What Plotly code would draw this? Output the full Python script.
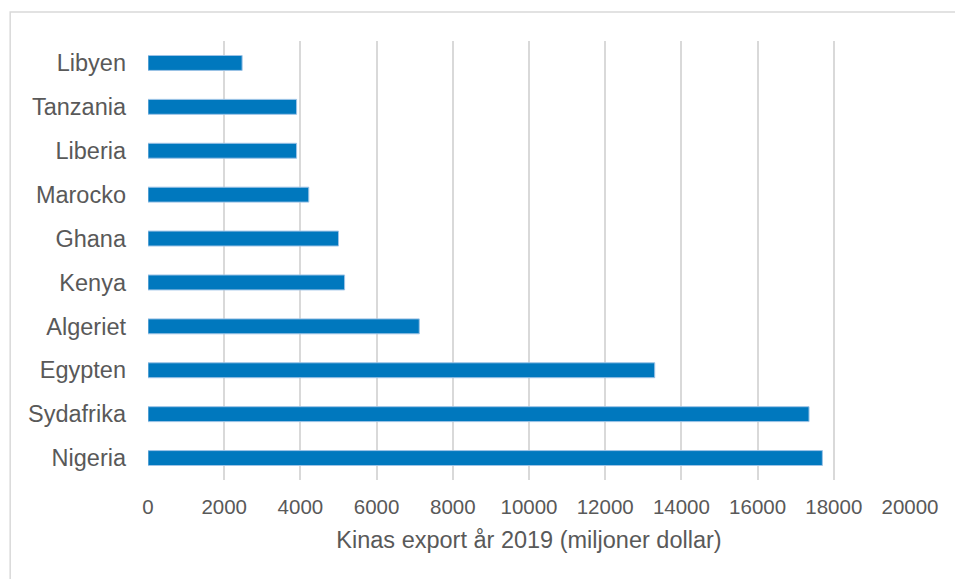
import plotly.graph_objects as go

countries = ["Nigeria", "Sydafrika", "Egypten", "Algeriet", "Kenya", "Ghana",
             "Marocko", "Liberia", "Tanzania", "Libyen"]
values = [17700, 17350, 13300, 7120, 5160, 5000, 4220, 3900, 3900, 2470]
x_ticks = [0, 2000, 4000, 6000, 8000, 10000, 12000, 14000, 16000, 18000, 20000]
x_title = "Kinas export år 2019 (miljoner dollar)"

W, H = 955, 579
L, R, T, B = 147.5, 44.5, 40.5, 98.5

fig = go.Figure(go.Bar(
    x=values, y=countries, orientation="h",
    marker=dict(color="#0078BE", line=dict(color="#9DC3E6", width=1)),
))

fig.update_layout(
    width=W, height=H,
    margin=dict(l=L, r=R, t=T, b=B),
    paper_bgcolor="white", plot_bgcolor="white",
    bargap=0.66,
    showlegend=False,
    font=dict(family="Liberation Sans, Arial, sans-serif", color="#595959"),
    shapes=[dict(type="rect", xref="paper", yref="paper",
                 x0=-(L - 9.5) / (W - L - R), x1=(W - L + 20) / (W - L - R),
                 y0=-(B + 20) / (H - T - B), y1=1 + (T - 11.5) / (H - T - B),
                 line=dict(color="#D9D9D9", width=1.5), layer="below")],
)

fig.update_xaxes(
    range=[0, 20000], tickvals=x_ticks, ticktext=[str(v) for v in x_ticks],
    showgrid=True, gridcolor="#D9D9D9", gridwidth=1.8,
    zeroline=False, showline=False, ticks="",
    tickfont=dict(size=20.5, color="#595959"),
    ticklabelstandoff=12,
    title=dict(text=x_title, font=dict(size=23.5, color="#595959"), standoff=15),
)
fig.update_yaxes(
    showgrid=False, zeroline=False, showline=False, ticks="",
    tickfont=dict(size=23.5, color="#595959"),
    ticklabelstandoff=21,
)

fig.write_html("out.html")
